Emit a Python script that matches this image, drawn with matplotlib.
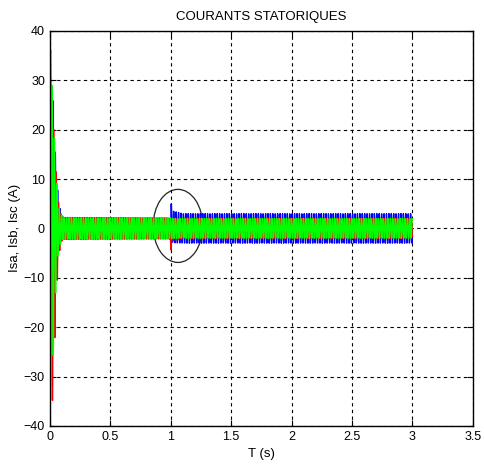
import numpy as np
import matplotlib.pyplot as plt
from matplotlib.patches import Ellipse

# envelope of the three stator currents
env_t = [0.0, 0.01, 0.02, 0.03, 0.05, 0.07, 0.09, 0.11, 0.99, 1.0, 1.02, 1.1, 3.0]
amp_a = [25.0, 24.0, 21.0, 17.0, 10.0, 5.0, 3.0, 2.2, 2.1, 4.0, 3.2, 3.0, 3.0]
amp_b = [31.0, 30.0, 29.0, 26.0, 14.0, 6.0, 3.0, 2.2, 2.1, 3.0, 2.2, 2.0, 2.0]
amp_c = [31.0, 31.0, 30.0, 24.0, 12.0, 5.0, 3.0, 2.2, 2.1, 2.2, 2.0, 2.0, 2.0]
off_a = [13.0, 11.0, 8.0, 6.0, 3.0, 1.0, 0.3, 0.0, 0.0, 1.5, 0.3, 0.0, 0.0]
off_b = [-7.0, -7.0, -7.0, -5.0, -2.0, -0.5, 0.0, 0.0, 0.0, -1.5, -0.3, 0.0, 0.0]
off_c = [-1.0, -1.0, -1.0, -1.0, 0.0, 0.0, 0.0, 0.0, 0.0, 0.0, 0.0, 0.0, 0.0]
freq = 50.0
t_end = 3.0

xticks = [0, 0.5, 1, 1.5, 2, 2.5, 3, 3.5]
xtick_labels = ["0", "0.5", "1", "1.5", "2", "2.5", "3", "3.5"]
yticks = [-40, -30, -20, -10, 0, 10, 20, 30, 40]

t = np.arange(0, t_end, 0.0011)


def phase_current(amp, off, shift):
    a = np.interp(t, env_t, amp)
    o = np.interp(t, env_t, off)
    return o + a * np.sin(2 * np.pi * freq * t + shift)


isa = phase_current(amp_a, off_a, 0.0)
isb = phase_current(amp_b, off_b, -2 * np.pi / 3)
isc = phase_current(amp_c, off_c, 2 * np.pi / 3)

plt.rcParams['font.family'] = ['Liberation Sans', 'DejaVu Sans']
fig = plt.figure(figsize=(4.84, 4.68), dpi=100)
ax = fig.add_axes([0.103, 0.09, 0.874, 0.844])

ax.plot(t, isa, color="#0000ff", lw=1.0)
ax.plot(t, isb, color="#ff0000", lw=1.0)
ax.plot(t, isc, color="#00ff00", lw=1.0)

ax.add_patch(Ellipse((1.06, 0.5), 0.41, 14.8, fill=False, edgecolor="#222222", lw=0.9))

ax.set_xlim(0, 3.5)
ax.set_ylim(-40, 40)
ax.set_xticks(xticks)
ax.set_xticklabels(xtick_labels)
ax.set_yticks(yticks)
ax.grid(True, color="black", linestyle=(0, (3, 3)), lw=0.8)
ax.tick_params(direction="in", labelsize=9, length=4, top=True, right=True)
for s in ax.spines.values():
    s.set_linewidth(1.0)

ax.set_title("COURANTS STATORIQUES", fontsize=9.5, pad=8)
ax.set_xlabel("T (s)", fontsize=9.5)
ax.set_ylabel("Isa, Isb, Isc (A)", fontsize=9.5, labelpad=2)

fig.savefig("out.png", dpi=100)
